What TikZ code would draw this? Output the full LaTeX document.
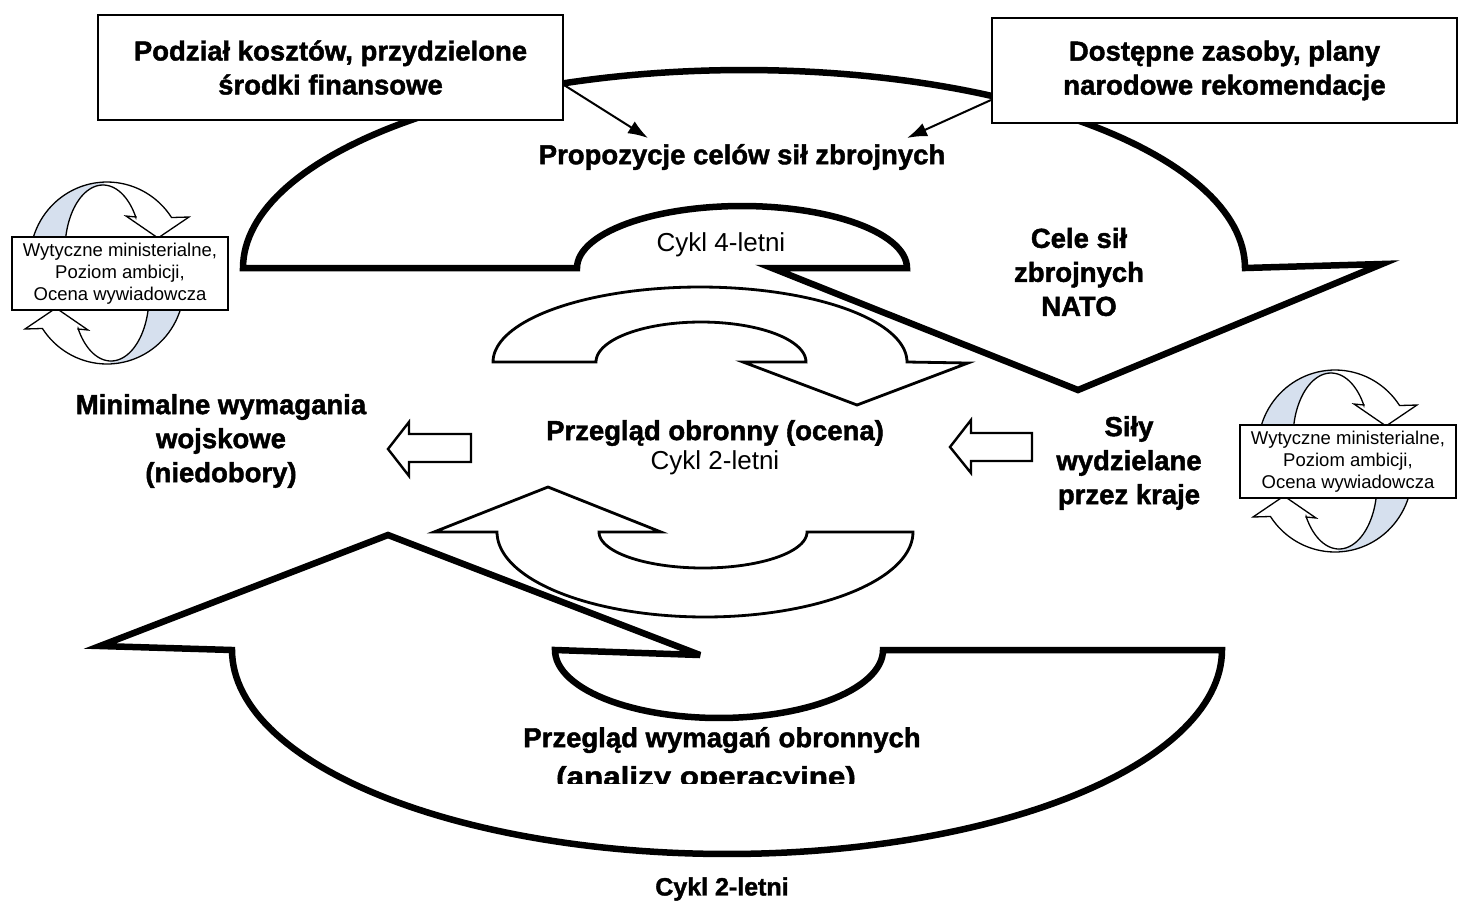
\documentclass[tikz,border=0pt]{standalone}
\usepackage{fontspec}
\setmainfont{Liberation Sans}
\newfontfamily\blackfont[FakeBold=1.6]{Liberation Sans Bold}
\usetikzlibrary{arrows.meta}
\definecolor{ribbon}{RGB}{214,224,238}
\tikzset{
  big/.style={line width=6.5pt, line join=miter, miter limit=6},
  mid/.style={line width=2.8pt, line join=miter},
  hollow/.style={line width=2.4pt, line join=miter},
  bandline/.style={line width=1.3pt},
  srcbox/.style={draw, line width=2pt, fill=white, minimum width=465pt,
    minimum height=105pt, inner sep=0pt, align=center,
    font=\fontsize{27.5}{34}\selectfont\blackfont},
  heavy/.style={align=center, inner sep=0pt, font=\fontsize{27.5}{34}\selectfont\blackfont},
  plain/.style={align=center, inner sep=0pt, font=\fontsize{26}{30}\selectfont},
  feed/.style={line width=2pt, -{Latex[length=20pt,width=14pt]}},
  iconbox/.style={draw, line width=1.6pt, fill=white, minimum width=216pt,
    minimum height=73pt, inner sep=0pt, align=center,
    font=\fontsize{18.5}{22}\selectfont},
  pics/band/.style={code={
    \fill[white] plot[domain=163:33,samples=40] ({107+77*cos(\x)},{260-78*sin(\x)})
      -- (189,217) -- (158,238) -- (126,216) -- (136,217)
      -- plot[domain=30:168,samples=40] ({103+38*cos(\x)},{250-65*sin(\x)}) -- cycle;
    \begin{scope}
      \clip (0,150) rectangle (104,240);
      \fill[ribbon] plot[domain=163:33,samples=40] ({107+77*cos(\x)},{260-78*sin(\x)})
        -- (189,217) -- (158,238) -- (126,216) -- (136,217)
        -- plot[domain=30:168,samples=40] ({103+38*cos(\x)},{250-65*sin(\x)}) -- cycle;
    \end{scope}
    \draw[bandline, line join=miter] plot[domain=163:33,samples=40] ({107+77*cos(\x)},{260-78*sin(\x)})
      -- (189,217) -- (158,238) -- (126,216) -- (136,217)
      -- plot[domain=30:168,samples=40] ({103+38*cos(\x)},{250-65*sin(\x)});
  }},
  pics/guidance/.style={code={
    \pic at (0,0) {band};
    \pic[rotate=180] at (214,546) {band};
    \node[iconbox] (-box) at (120,273.5)
      {Wytyczne ministerialne,\\Poziom ambicji,\\Ocena wywiadowcza};
  }}
}
\begin{document}
\begin{tikzpicture}[x=1pt,y=-1pt]
\useasboundingbox[fill=white] (0,0) rectangle (1462,903);

% four-year cycle: large curved arrow over the top
\draw[big] plot[domain=180:0,samples=120] ({744+501*cos(\x)},{268-198*sin(\x)})
  -- (1382,264) -- (1078,390) -- (772,268) -- (907,268)
  -- plot[domain=0:180,samples=60] ({742+165*cos(\x)},{268-62*sin(\x)}) -- cycle;

% two-year cycle: large curved arrow underneath
\draw[big] plot[domain=0:-180,samples=120] ({727+495*cos(\x)},{650-204*sin(\x)})
  -- (100,646) -- (388,535) -- (700,655) -- (555,650)
  -- plot[domain=180:360,samples=60] ({719+164*cos(\x)},{650-68*sin(\x)}) -- cycle;

% inner cycle: upper curved arrow
\draw[mid] plot[domain=180:0,samples=80] ({700+207*cos(\x)},{362-75*sin(\x)})
  -- (968,363) -- (857,405) -- (743,362) -- (806,362)
  -- plot[domain=0:180,samples=60] ({701+105*cos(\x)},{362-40*sin(\x)}) -- cycle;

% inner cycle: lower curved arrow
\draw[mid] plot[domain=0:-180,samples=80] ({705+208*cos(\x)},{532-85*sin(\x)})
  -- (434,532) -- (548,487) -- (661,532) -- (599,532)
  -- plot[domain=180:360,samples=60] ({703+104*cos(\x)},{532-36*sin(\x)}) -- cycle;

% hollow arrows pointing left
\draw[hollow] (388,449) -- (409,422) -- (409,434) -- (471,434) -- (471,462)
  -- (409,462) -- (409,476) -- cycle;
\draw[hollow] (950,447) -- (971,420) -- (971,433) -- (1032,433) -- (1032,461)
  -- (971,461) -- (971,473) -- cycle;

% guidance icons
\pic (gl) at (0,0) {guidance};
\pic (gr) at (1228,188) {guidance};

% source boxes
\node[srcbox] (costs) at (330.5,67.5) {Podział kosztów, przydzielone\\środki finansowe};
\node[srcbox] (resources) at (1224.5,70.5) {Dostępne zasoby, plany\\narodowe rekomendacje};

% labels
\node[heavy] (proposals) at (742,157) {Propozycje celów sił zbrojnych};
\coordinate (pl) at (648,138);
\coordinate (pr) at (907,138);
\draw[feed] ([yshift=-17.5pt]costs.east) -- (pl);
\draw[feed] ([yshift=-29.5pt]resources.west) -- (pr);

\node[plain] (cycle4) at (721,245) {Cykl 4-letni};
\node[heavy] (targets) at (1079,272) {Cele sił\\zbrojnych\\NATO};
\node[heavy] (minimum) at (221,441) {Minimalne wymagania\\wojskowe\\(niedobory)};
\node[heavy] (forces) at (1129,463) {Siły\\wydzielane\\przez kraje};
\node[heavy] (review) at (715,433) {Przegląd obronny (ocena)};
\node[plain] (cycle2a) at (715,463) {Cykl 2-letni};
\node[heavy] (reqs) at (722,740) {Przegląd wymagań obronnych};
\begin{scope}
  \clip (480,750) rectangle (940,783);
  \node[heavy, anchor=base] (ops) at (706,786) {\scalebox{1.14}[1]{(analizy operacyjne)}};
\end{scope}
\node[heavy, font=\fontsize{25}{30}\selectfont\blackfont] (cycle2b) at (722,889) {Cykl 2-letni};
\end{tikzpicture}
\end{document}
